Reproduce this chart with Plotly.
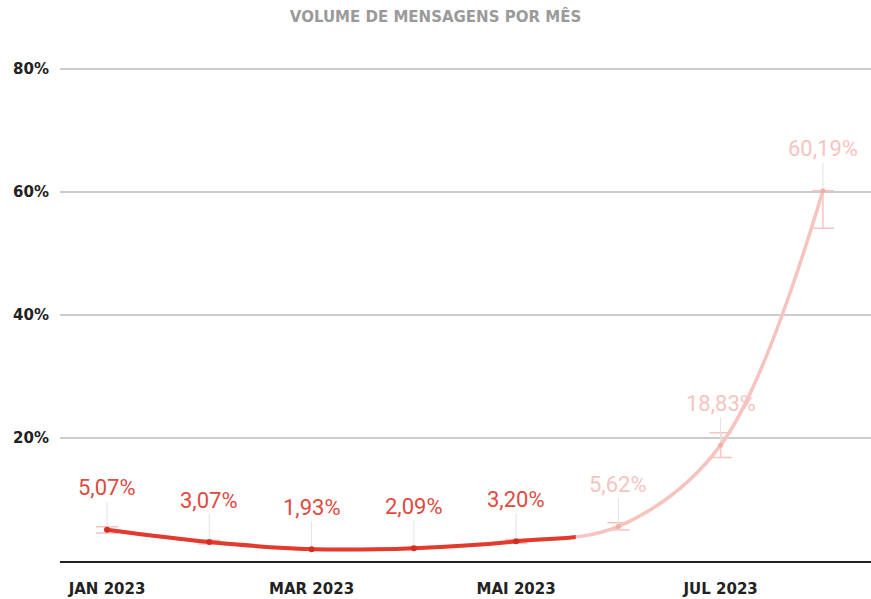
import plotly.graph_objects as go

# monthly share of messages (%)
months = ["JAN 2023", "FEV 2023", "MAR 2023", "ABR 2023", "MAI 2023", "JUN 2023", "JUL 2023", "AGO 2023"]
volume = [5.07, 3.07, 1.93, 2.09, 3.20, 5.62, 18.83, 60.19]
err_plus = [0.5, 0.3, 0.1, 0.1, 0.3, 0.6, 2.0, 0.0]
err_minus = [0.5, 0.3, 0.1, 0.1, 0.3, 0.6, 2.0, 6.1]
tick_months = ["JAN 2023", "MAR 2023", "MAI 2023", "JUL 2023"]
y_ticks = [20, 40, 60, 80]
n_actual = 5  # Jan-May are realised, the rest is projection

RED = "#E23B2E"
RED_TXT = "#E04A3F"
PINK = "#F6C4BF"

x_range = [-0.46, 7.47]
solid_frac = 0.636  # the solid red part stops a little after MAI
x2_range = [x_range[0], x_range[0] + (x_range[1] - x_range[0]) * solid_frac]

fig = go.Figure()

# full curve in light pink (projection look)
fig.add_trace(go.Scatter(
    x=months, y=volume, mode="lines+markers",
    line=dict(color=PINK, width=3.5, shape="spline", smoothing=1),
    marker=dict(color="#F2AFA8", size=5),
    error_y=dict(type="data", symmetric=False, array=err_plus, arrayminus=err_minus,
                 color=PINK, thickness=1.5, width=11),
    hoverinfo="skip", showlegend=False,
))

# same curve in red, on a clipped copy of the x axis
fig.add_trace(go.Scatter(
    x=months, y=volume, mode="lines+markers", xaxis="x2", yaxis="y",
    line=dict(color=RED, width=4, shape="spline", smoothing=1),
    marker=dict(color="#D42E22", size=6),
    hoverinfo="skip", showlegend=False,
))

for i, (m, v) in enumerate(zip(months, volume)):
    fig.add_annotation(
        x=m, y=v, xref="x", yref="y",
        text=f"{v:.2f}".replace(".", ",") + "%",
        showarrow=True, arrowhead=0, arrowwidth=1, arrowcolor="#E2E2E2",
        ax=0, ay=-42, standoff=3,
        font=dict(family="Roboto", size=22, color=RED_TXT if i < n_actual else PINK),
    )

fig.update_layout(
    width=871, height=599,
    margin=dict(l=60, r=0, t=67, b=38),
    paper_bgcolor="white", plot_bgcolor="rgba(0,0,0,0)",
    title=dict(text="<b>VOLUME DE MENSAGENS POR MÊS</b>", x=0.5, xanchor="center",
               y=0.972, yanchor="middle",
               font=dict(family="DejaVu Sans", size=15, color="#9A9A9A")),
    xaxis=dict(type="category", categoryarray=months, range=x_range,
               tickvals=tick_months, ticktext=tick_months,
               showgrid=False, zeroline=False, ticks="", automargin=False,
               showline=True, linecolor="#222222", linewidth=2,
               ticklabelstandoff=13,
               tickfont=dict(family="DejaVu Sans", size=15, color="#222222", weight="bold")),
    xaxis2=dict(type="category", categoryarray=months, range=x2_range,
                domain=[0, solid_frac], anchor="y", visible=False),
    yaxis=dict(range=[0, 80.3], tickvals=y_ticks, ticktext=[f"{t}%" for t in y_ticks],
               showgrid=True, gridcolor="#CCCCCC", gridwidth=2, automargin=False,
               zeroline=False, ticks="", ticklabelstandoff=10,
               tickfont=dict(family="DejaVu Sans", size=15, color="#222222", weight="bold")),
)

fig.write_html("out.html", config={"displayModeBar": False},
               post_script="document.body.style.margin='0';")
